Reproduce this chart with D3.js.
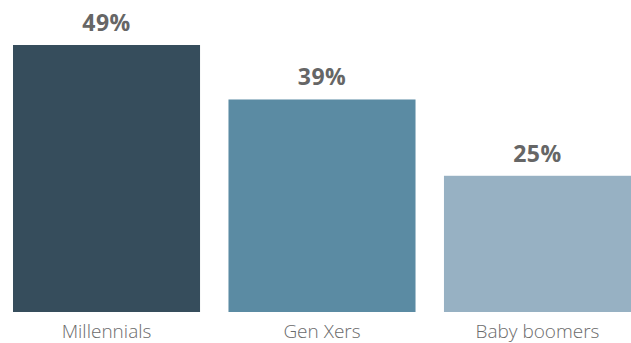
<!DOCTYPE html>
<html>
<head>
<meta charset="utf-8">
<script src="https://cdn.jsdelivr.net/npm/d3@7"></script>
<style>
  body { margin: 0; background: #fff; }
</style>
</head>
<body>
<div id="chart"></div>
<script>
const categories = ["Millennials", "Gen Xers", "Baby boomers"];
const values = [49, 39, 25];
const colors = ["#364d5c", "#5b8ba3", "#97b1c3"];

const width = 631;
const height = 343;

const svg = d3.select("#chart")
    .append("svg")
    .attr("width", width)
    .attr("height", height);

const x = d3.scaleBand()
    .domain(categories)
    .range([13, 631])
    .paddingInner(0.132)
    .paddingOuter(0);

const y = d3.scaleLinear()
    .domain([0, 49])
    .range([312, 45]);

svg.selectAll("rect.bar")
    .data(values)
    .enter()
    .append("rect")
    .attr("class", "bar")
    .attr("x", (d, i) => x(categories[i]))
    .attr("y", d => y(d))
    .attr("width", x.bandwidth())
    .attr("height", d => y(0) - y(d))
    .attr("fill", (d, i) => colors[i]);

// value labels above bars
svg.selectAll("text.value")
    .data(values)
    .enter()
    .append("text")
    .attr("class", "value")
    .attr("x", (d, i) => x(categories[i]) + x.bandwidth() / 2)
    .attr("y", d => y(d) - 14)
    .attr("text-anchor", "middle")
    .attr("font-family", "'Open Sans', sans-serif")
    .attr("font-weight", "bold")
    .attr("font-size", "23px")
    .attr("letter-spacing", "0.5px")
    .attr("fill", "#666666")
    .text(d => d + "%");

// category labels
svg.selectAll("text.cat")
    .data(categories)
    .enter()
    .append("text")
    .attr("class", "cat")
    .attr("x", d => x(d) + x.bandwidth() / 2)
    .attr("y", 338)
    .attr("text-anchor", "middle")
    .attr("font-family", "'Open Sans', sans-serif")
    .attr("font-weight", 300)
    .attr("font-size", "19px")
    .attr("fill", "#6b6b6b")
    .text(d => d);
</script>
</body>
</html>
